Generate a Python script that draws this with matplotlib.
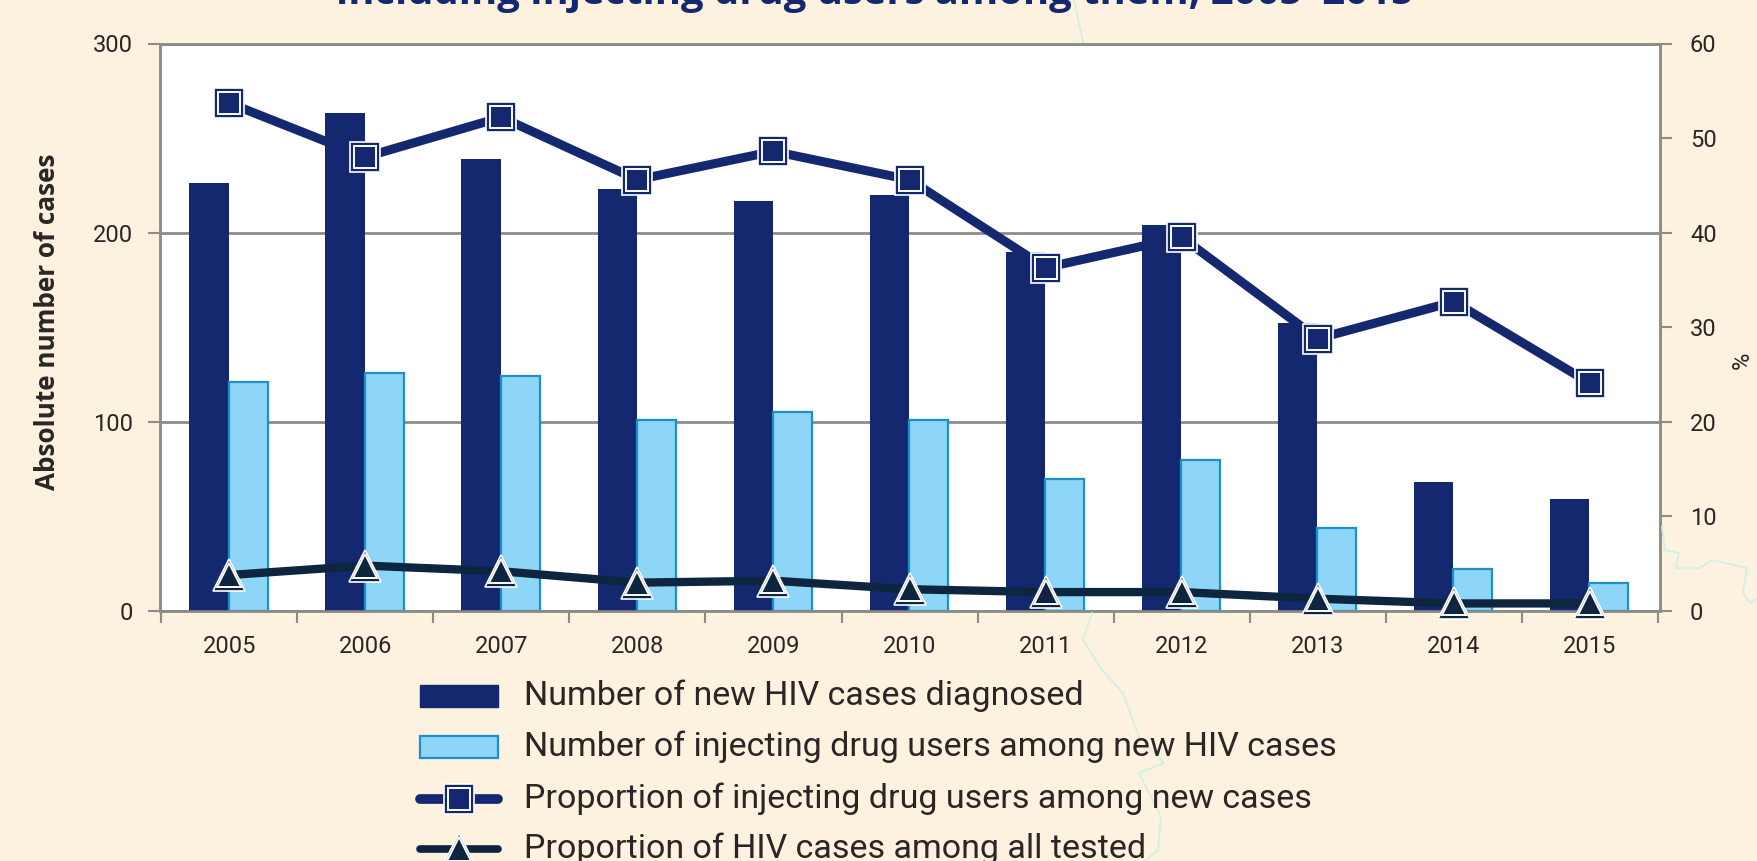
import matplotlib
matplotlib.use('Agg')
import matplotlib.pyplot as plt
import numpy as np

years = ['2005', '2006', '2007', '2008', '2009', '2010', '2011', '2012', '2013', '2014', '2015']
new_cases = [226, 263, 239, 223, 217, 220, 190, 204, 152, 68, 59]
idu_cases = [121, 126, 124, 101, 105, 101, 70, 80, 44, 22, 15]
idu_share = [53.7, 48.0, 52.2, 45.6, 48.6, 45.6, 36.3, 39.5, 28.8, 32.7, 24.1]
hiv_share = [3.8, 4.8, 4.2, 3.0, 3.2, 2.3, 2.0, 2.0, 1.3, 0.8, 0.8]

legend_labels = ['Number of new HIV cases diagnosed',
                 'Number of injecting drug users among new HIV cases',
                 'Proportion of injecting drug users among new cases',
                 'Proportion of HIV cases among all tested']
title = 'including injecting drug users among them, 2005–2015'

# faint map borders behind the chart (page decoration, in picture pixels)
border_a = ([1074, 1083], [0, 42])
border_b = ([1092, 1083, 1102, 1123, 1139, 1164, 1139, 1161, 1158, 1145],
            [613, 640, 670, 693, 737, 763, 773, 817, 850, 861])
border_c = ([1662, 1665, 1679, 1676, 1700, 1712, 1747, 1743, 1750, 1758],
            [527, 550, 553, 568, 568, 560, 568, 593, 603, 598])

W, H = 1758, 861
BG = '#fdf1e0'
NAVY = '#14286f'
DARK = '#0e2540'
LIGHT = '#8dd6f7'
EDGE = '#1d8fcf'
GREY = '#8c8c88'
TXT = '#2a2625'
MAP = '#d3efe2'


def fancy_marker(a, xs, ys, marker, size, col, zorder=5):
    # outline, white ring, then inner fill, as in the original markers
    a.plot(xs, ys, ls='', marker=marker, ms=size, mfc=col, mec='white', mew=1.2, clip_on=False, zorder=zorder)
    a.plot(xs, ys, ls='', marker=marker, ms=size * 0.78, mfc=col, mec='white', mew=1.4, clip_on=False,
           zorder=zorder + 0.1)


plt.rcParams['font.family'] = ['Roboto', 'DejaVu Sans']

fig = plt.figure(figsize=(W / 100, H / 100), dpi=100, facecolor=BG)

# full figure axes for the decoration and the legend
fig_ax = fig.add_axes([0, 0, 1, 1], facecolor='none')
fig_ax.set_xlim(0, W)
fig_ax.set_ylim(H, 0)
fig_ax.axis('off')
for bx, by in (border_a, border_b, border_c):
    fig_ax.plot(bx, by, color=MAP, lw=1.3)

ax = fig.add_axes([160.5 / W, 1 - 611 / H, (1660 - 160.5) / W, (611 - 43.5) / H])
ax2 = ax.twinx()

x = np.arange(len(years))
w = 0.288
ax.set_axisbelow(True)
ax.yaxis.grid(True, color=GREY, lw=2)
ax.bar(x - w / 2 - 0.005, new_cases, w, color=NAVY, zorder=3)
ax.bar(x + w / 2 - 0.005, idu_cases, w, color=LIGHT, edgecolor=EDGE, lw=1.6, zorder=3)

ax.set_xlim(-0.505, len(years) - 0.485)
ax.set_ylim(0, 300)
ax.set_yticks([0, 100, 200, 300])
ax.set_xticks(x)
ax.set_xticklabels(years)
ax.set_xticks(np.arange(len(years) + 1) - 0.5, minor=True)
ax.tick_params(axis='x', which='major', length=0, pad=17, labelsize=17, labelcolor=TXT)
ax.tick_params(axis='x', which='minor', length=8.6, width=1.5, color=GREY)
ax.tick_params(axis='y', length=8.6, width=1.5, color=GREY, pad=11, labelsize=17, labelcolor=TXT)

ax2.set_ylim(0, 60)
ax2.set_yticks(range(0, 61, 10))
ax2.tick_params(axis='y', length=8.6, width=1.5, color=GREY, pad=13, labelsize=17, labelcolor=TXT)
ax2.patch.set_visible(False)
ax.set_zorder(1)
ax2.set_zorder(2)
for a in (ax, ax2):
    for s in a.spines.values():
        s.set_color(GREY)
        s.set_linewidth(1.8)

ax2.plot(x, idu_share, color=NAVY, lw=6.5, solid_capstyle='round', zorder=4)
ax2.plot(x, hiv_share, color=DARK, lw=6, solid_capstyle='round', zorder=4)
fancy_marker(ax2, x, idu_share, 's', 21, NAVY)
fancy_marker(ax2, x, hiv_share, '^', 23, DARK)

fig.text(0.5 - 4 / W, 1 + 7 / H, title, ha='center', va='center', fontsize=28.8, fontweight='bold', color=NAVY,
         family=['Open Sans', 'DejaVu Sans'])
fig.text(48 / W, 1 - 322 / H, 'Absolute number of cases', rotation=90, ha='center', va='center',
         fontsize=18.8, fontweight='bold', color=TXT, family=['Open Sans', 'DejaVu Sans'])
fig.text(1742 / W, 1 - 360 / H, '%', rotation=90, ha='center', va='center', fontsize=17, color=TXT)

# legend, handles placed by hand like the original
rows = [696, 747, 799, 849]
hx0, hx1, tx = 420, 498, 524
lx = [hx0, hx1]
mid = (hx0 + hx1) / 2
fig_ax.set_zorder(3)
fig_ax.add_patch(plt.Rectangle((hx0, rows[0] - 11), hx1 - hx0, 22, color=NAVY))
fig_ax.add_patch(plt.Rectangle((hx0, rows[1] - 11), hx1 - hx0, 22, facecolor=LIGHT, edgecolor=EDGE, lw=1.6))
fig_ax.plot(lx, [rows[2], rows[2]], color=NAVY, lw=7, solid_capstyle='round')
fancy_marker(fig_ax, [mid], [rows[2]], 's', 21, NAVY)
fig_ax.plot(lx, [rows[3], rows[3]], color=DARK, lw=5.5, solid_capstyle='round')
fancy_marker(fig_ax, [mid], [rows[3]], '^', 23, DARK)
for r, lab in zip(rows, legend_labels):
    fig_ax.text(tx, r, lab, va='center', ha='left', fontsize=24.5, color=TXT)

fig.savefig('out.png', dpi=100, facecolor=BG)
